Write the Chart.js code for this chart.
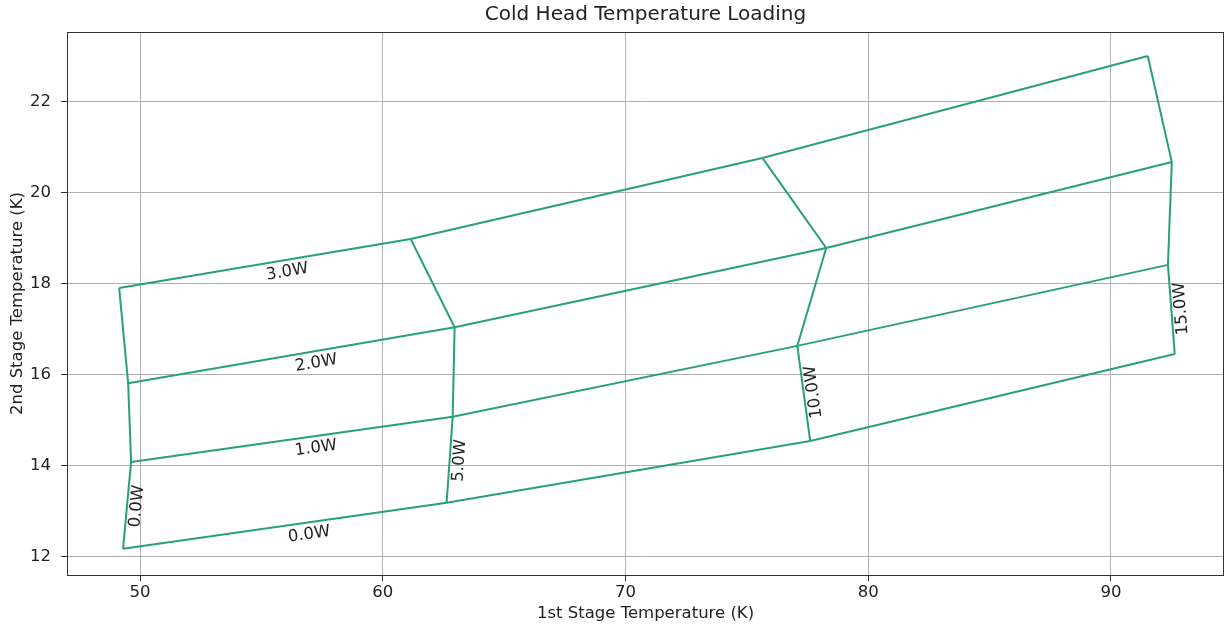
<!DOCTYPE html>
<html>
<head>
<meta charset="utf-8">
<script src="https://cdn.jsdelivr.net/npm/chart.js@4"></script>
<style>
  html, body { margin: 0; padding: 0; background: #fff; }
  #wrap { width: 1225px; height: 626px; }
</style>
</head>
<body>
<div id="wrap"><canvas id="chart"></canvas></div>
<script>
// loads (W) on each stage
const stage1Loads = [0, 5, 10, 15];
const stage2Loads = [0, 1, 2, 3];

// rows = 2nd stage load, columns = 1st stage load
const firstStageTemp = [
  [49.30, 62.63, 77.61, 92.63],
  [49.63, 62.88, 77.08, 92.35],
  [49.51, 62.96, 78.27, 92.51],
  [49.14, 61.15, 75.64, 91.52]
];
const secondStageTemp = [
  [12.18, 13.19, 14.55, 16.46],
  [14.09, 15.08, 16.64, 18.42],
  [15.82, 17.05, 18.79, 20.68],
  [17.91, 18.99, 20.77, 23.01]
];

const xTicks = [50, 60, 70, 80, 90];
const yTicks = [12, 14, 16, 18, 20, 22];

const titleText = 'Cold Head Temperature Loading';
const lineColor = '#2a9f7c';
const textColor = '#222';
const font = 'DejaVu Sans';

const datasets = [];
// constant 2nd stage load
stage2Loads.forEach((w, r) => {
  datasets.push({
    label: w.toFixed(1) + 'W',
    data: stage1Loads.map((_, c) => ({ x: firstStageTemp[r][c], y: secondStageTemp[r][c] })),
    showLine: true, borderColor: lineColor, borderWidth: 2, pointRadius: 0
  });
});
// constant 1st stage load
stage1Loads.forEach((w, c) => {
  datasets.push({
    label: w.toFixed(1) + 'W',
    data: stage2Loads.map((_, r) => ({ x: firstStageTemp[r][c], y: secondStageTemp[r][c] })),
    showLine: true, borderColor: lineColor, borderWidth: 2, pointRadius: 0
  });
});

// text next to each line, along its first segment
const loadLabels = {
  id: 'loadLabels',
  afterDatasetsDraw(chart) {
    const { ctx, scales: { x, y } } = chart;
    const px = (r, c) => ({ x: x.getPixelForValue(firstStageTemp[r][c]), y: y.getPixelForValue(secondStageTemp[r][c]) });
    const put = (text, p0, p1, t, off) => {
      const a = Math.atan2(p1.y - p0.y, p1.x - p0.x);
      const cx = p0.x + (p1.x - p0.x) * t - Math.sin(a) * off;
      const cy = p0.y + (p1.y - p0.y) * t + Math.cos(a) * off;
      ctx.save();
      ctx.translate(cx, cy);
      ctx.rotate(a);
      ctx.fillStyle = textColor;
      ctx.font = '16.5px "' + font + '"';
      ctx.textAlign = 'center';
      ctx.textBaseline = 'middle';
      ctx.fillText(text, 0, 0);
      ctx.restore();
    };
    stage2Loads.forEach((w, r) => put(w.toFixed(1) + 'W', px(r, 0), px(r, 1), 0.57, 12));
    stage1Loads.forEach((w, c) => put(w.toFixed(1) + 'W', px(0, c), px(1, c), 0.5, 10));
  }
};

// box round the axes + title centred over the plot area
const frame = {
  id: 'frame',
  afterDraw(chart) {
    const { ctx, chartArea: a } = chart;
    ctx.save();
    ctx.strokeStyle = '#333';
    ctx.lineWidth = 1;
    ctx.strokeRect(Math.round(a.left) + 0.5, Math.round(a.top) + 0.5, Math.round(a.right - a.left) - 1, Math.round(a.bottom - a.top));
    ctx.fillStyle = textColor;
    ctx.font = '20px "' + font + '"';
    ctx.textAlign = 'center';
    ctx.textBaseline = 'middle';
    ctx.fillText(titleText, (a.left + a.right) / 2, 15);
    ctx.restore();
  }
};

new Chart(document.getElementById('chart'), {
  type: 'scatter',
  data: { datasets },
  plugins: [loadLabels, frame],
  options: {
    responsive: true,
    maintainAspectRatio: false,
    animation: false,
    layout: { padding: { left: 0, right: 1, top: 32, bottom: 0 } },
    plugins: {
      legend: { display: false },
      tooltip: { enabled: false },
      title: { display: false }
    },
    scales: {
      x: {
        type: 'linear',
        min: 46.99,
        max: 94.66,
        afterFit: (s) => { s.height = 51; },
        afterBuildTicks: (s) => { s.ticks = xTicks.map(v => ({ value: v })); },
        grid: { color: '#b0b0b0', lineWidth: 1, tickColor: '#333', tickLength: 6 },
        border: { display: false },
        ticks: { color: textColor, font: { family: font, size: 16.5 }, padding: 2, maxRotation: 0 },
        title: {
          display: true,
          text: '1st Stage Temperature (K)',
          color: textColor,
          font: { family: font, size: 16.5 },
          padding: { top: 0, bottom: 2 }
        }
      },
      y: {
        type: 'linear',
        min: 11.604,
        max: 23.538,
        afterFit: (s) => { s.width = 67; },
        afterBuildTicks: (s) => { s.ticks = yTicks.map(v => ({ value: v })); },
        grid: { color: '#b0b0b0', lineWidth: 1, tickColor: '#333', tickLength: 6 },
        border: { display: false },
        ticks: { color: textColor, font: { family: font, size: 16.5 }, padding: 10 },
        title: {
          display: true,
          text: '2nd Stage Temperature (K)',
          color: textColor,
          font: { family: font, size: 16.5 },
          padding: { top: 8, bottom: 0 }
        }
      }
    }
  }
});
</script>
</body>
</html>
